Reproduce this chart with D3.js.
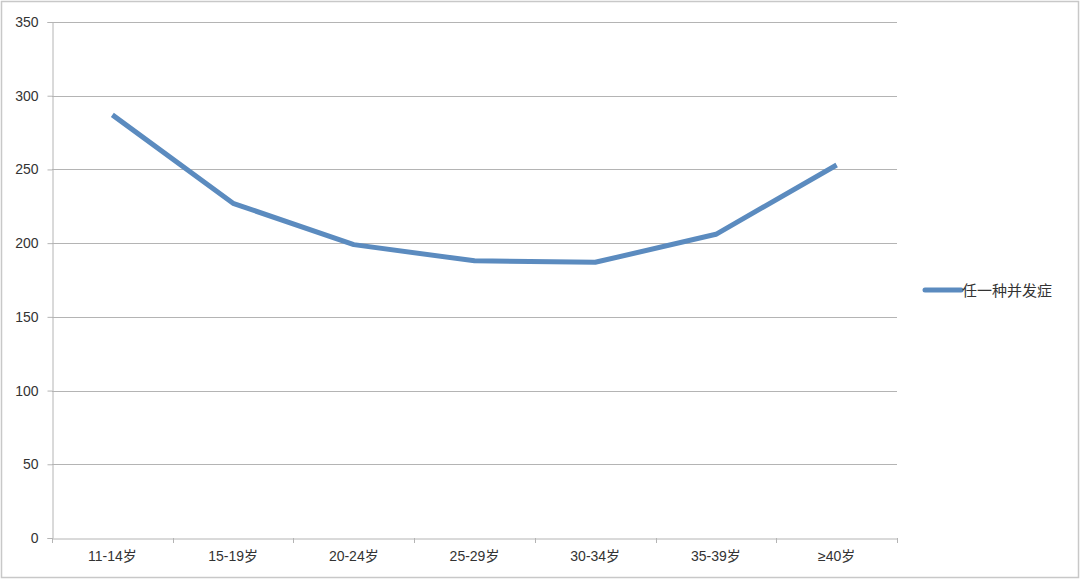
<!DOCTYPE html>
<html><head><meta charset="utf-8">
<script src="https://cdn.jsdelivr.net/npm/d3@7"></script>
<style>html,body{margin:0;padding:0;background:#fff;}svg{display:block;}</style>
</head><body>
<script>
const categories = ["11-14岁","15-19岁","20-24岁","25-29岁","30-34岁","35-39岁","≥40岁"];
const values = [287, 227, 199, 188, 187, 206, 253];
const seriesName = "任一种并发症";
const yTicks = [0,50,100,150,200,250,300,350];

(function(){
const W = 1080, H = 580;
const svg = d3.select("body").append("svg").attr("width", W).attr("height", H);
svg.append("rect").attr("x",1.5).attr("y",1.5).attr("width",W-3).attr("height",H-4)
  .attr("fill","#fff").attr("stroke","#c8c8c8").attr("stroke-width",1.5);

const mL = 52, mR = 897, mT = 22, mB = 538;
const x = d3.scaleBand().domain(categories).range([mL, mR]);
const y = d3.scaleLinear().domain([0, 350]).range([mB, mT]);

svg.append("g").selectAll("line").data(yTicks.filter(d=>d>0)).join("line")
  .attr("x1", mL).attr("x2", mR)
  .attr("y1", d=>Math.round(y(d))+0.5).attr("y2", d=>Math.round(y(d))+0.5)
  .attr("stroke","#b4b4b4").attr("stroke-width",1);

const yAxis = svg.append("g").attr("transform",`translate(${mL+0.5},0)`)
  .call(d3.axisLeft(y).tickValues(yTicks).tickSize(5).tickPadding(9));
yAxis.select(".domain").attr("stroke","#b4b4b4");
yAxis.selectAll(".tick line").attr("stroke","#b4b4b4");
yAxis.selectAll("text").attr("fill","#333").style("font-family","'Liberation Sans', Arial, sans-serif").style("font-size","14px");

const xAxis = svg.append("g").attr("transform",`translate(0,${mB+0.5})`)
  .call(d3.axisBottom(x).tickSize(0).tickPadding(13));
xAxis.select(".domain").attr("stroke","#b4b4b4");
xAxis.selectAll("text").attr("fill","#333").style("font-family","'Liberation Sans','Noto Sans CJK SC', sans-serif").style("font-size","14px");
const bounds = categories.map(c=>x(c)).concat([mR]);
svg.append("g").selectAll("line").data(bounds).join("line")
  .attr("x1", d=>Math.round(d)+0.5).attr("x2", d=>Math.round(d)+0.5)
  .attr("y1", mB).attr("y2", mB+5)
  .attr("stroke","#b4b4b4");

const line = d3.line().x((d,i)=>x(categories[i])+x.bandwidth()/2).y(d=>y(d));
svg.append("path").datum(values).attr("d", line)
  .attr("fill","none").attr("stroke","#5b8bbf").attr("stroke-width",5)
  .attr("stroke-linejoin","round");

const lg = svg.append("g").attr("transform","translate(925,290)");
lg.append("line").attr("x1",0).attr("x2",36).attr("y1",0).attr("y2",0)
  .attr("stroke","#5b8bbf").attr("stroke-width",5).attr("stroke-linecap","round");
lg.append("text").attr("x",37).attr("y",5.5).text(seriesName)
  .attr("fill","#333").style("font-family","'Noto Sans CJK SC', sans-serif").style("font-size","15px");
})();
</script>
</body></html>
